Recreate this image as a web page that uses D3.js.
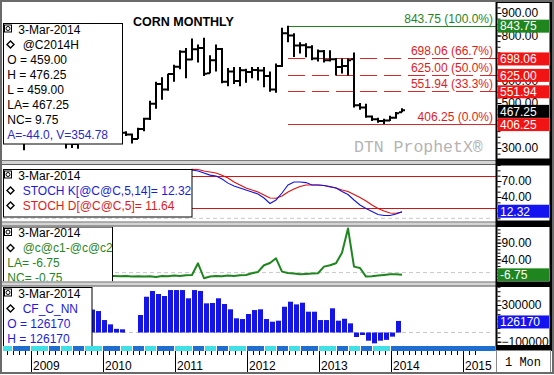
<!DOCTYPE html>
<html>
<head>
<meta charset="utf-8">
<script src="https://cdn.jsdelivr.net/npm/d3@7"></script>
<style>
  body { margin: 0; background: #fff; }
  svg { display: block; }
  text { font-family: Arial, "Liberation Sans", sans-serif; }
</style>
</head>
<body>
<svg id="chart" width="554" height="375"></svg>
<script>
// monthly bars, Sep 2008 .. Mar 2014
const firstMonth = new Date(2008, 8, 1);

const priceOpen = [555, 488, 400, 350, 407, 360, 357, 405, 393, 438, 343, 320, 318, 340, 390, 410,
  414, 362, 378, 346, 368, 360, 340, 384, 430, 497, 585, 560, 629, 661, 728, 693, 739, 745, 632, 690,
  740, 594, 640, 598, 646, 638, 647, 644, 620, 560, 665, 810, 800, 756, 757, 748, 698, 730, 690, 695,
  660, 665, 695, 490, 480, 440, 428, 420, 422, 434, 459];
const priceHigh = [600, 500, 430, 415, 424, 384, 412, 418, 445, 450, 355, 340, 345, 400, 420, 420,
  430, 385, 383, 375, 375, 364, 390, 435, 510, 595, 615, 630, 670, 735, 745, 787, 760, 790, 712, 760,
  745, 656, 660, 660, 652, 660, 660, 660, 640, 676, 835, 843.75, 810, 770, 766, 757, 738, 736, 735, 700,
  698, 698, 725, 500, 497, 445, 434, 430, 443, 460, 476.25];
const priceLow = [480, 365, 340, 290, 358, 346, 345, 370, 390, 340, 298, 300, 297, 330, 370, 380,
  353, 355, 340, 343, 353, 320, 340, 375, 425, 475, 515, 555, 595, 650, 610, 690, 680, 620, 632, 640,
  588, 575, 585, 575, 590, 610, 600, 570, 550, 546, 660, 770, 705, 720, 703, 690, 685, 680, 685, 622,
  631, 622, 480, 470, 435, 420, 412, 406.25, 420, 430, 459];
const priceClose = [488, 400, 350, 407, 360, 357, 405, 393, 438, 343, 320, 318, 340, 390, 410, 414,
  362, 378, 346, 368, 360, 340, 384, 430, 497, 585, 560, 629, 661, 728, 693, 739, 745, 630, 690, 740,
  594, 640, 598, 646, 638, 647, 644, 620, 560, 665, 810, 800, 756, 757, 748, 698, 730, 690, 695, 660,
  665, 690, 490, 480, 440, 428, 420, 422, 434, 455, 467.25];

const stochK = [30, 15, 8, 12, 20, 18, 25, 35, 55, 50, 30, 18, 15, 35, 55, 65, 50, 40, 30, 28, 30, 25,
  45, 65, 82, 88, 86, 89, 90, 91, 89, 90.6, 88.8, 85, 81, 79.4, 73.8, 66, 60.6, 57, 53, 49.4, 45.6, 38,
  27.8, 34.4, 47.5, 62.5, 68, 68, 67, 62.5, 62.5, 61.6, 59.7, 57, 50.3, 44.7, 34.4, 25, 18.4, 12.8,
  7.2, 5.3, 5.3, 8.1, 12.32];
const stochD = [45, 30, 18, 12, 14, 17, 20, 26, 35, 43, 42, 36, 30, 29, 35, 45, 50, 50, 45, 38, 33, 29,
  32, 42, 55, 70, 80, 86, 88, 90, 90, 92, 91.5, 88.8, 87, 85, 81, 75.6, 68, 62.5, 57, 53, 49.4, 43.8,
  38, 37.5, 42, 49.4, 55, 59.7, 62.5, 62.5, 62.5, 61.6, 58.8, 57, 53, 50.3, 44.7, 39, 32.5, 25, 18.4,
  13.8, 10, 9.4, 11.64];

const spread = [-8, -10, -12, -9, -11, -10, -12, -11, -9, -13, -10, -12, -11, -10, -9, -11, -12, -10,
  -10, -11, -10, -12, -11, -12, -11, -13, -10, -11, -9, -10, -8, -7, 28, -17, -12, -10, -11, -9, -10,
  -8, -7, -2, 2, 22, 29, 43, 3, -1, -3, -5, -4, -3, -2, 18, 22, 28, 60, 133, 18, 14, -12, -11, -9, -7,
  -5, -5, -6.75];

const cotNet = [210000, 150000, 120000, 110000, 140000, 160000, 180000, 170000, 190000, 150000, 110000,
  90000, 130000, 180000, 220000, 250000, 234000, 136000, 89000, 40000, 35000, null, null, 191000,
  390000, 453000, 420000, 398000, 463000, 463000, 463000, 373000, 463000, 453000, 318000, 322000,
  373000, 311000, 253000, 155000, 147000, 202000, 245000, 253000, 147000, 118000, 129000, 281000,
  336000, 307000, 325000, 227000, 227000, 136000, 136000, 264000, 129000, 150000, 100000, -49000,
  -27000, -89000, -118000, -89000, -80000, -45000, 126170];

const fibLevels = [843.75, 698.06, 625.00, 551.94, 406.25];
const fibLabels = ["100.0%", "66.7%", "50.0%", "33.3%", "0.0%"];
const fibStartMonth = new Date(2012, 7, 1);

const years = [2009, 2010, 2011, 2012, 2013, 2014, 2015];
// months where the nearby-contract strip changes colour
const rollMonths = [0, 3, 5, 7, 9];

// labels the value boxes do not fully cover
const priceTicks = [300, 500, 600, 800, 900];
const stochTicks = [40, 70];
const spreadTicks = [40, 90];
const cotTicks = [-100000, 300000];

const svg = d3.select('#chart');
const plotL = 3, plotR = 496, axL = 496, axR = 551;
const pPrice = [3, 160], pStoch = [165, 221.5], pSpread = [226.5, 281.5], pCot = [286.5, 346];

const dates = priceClose.map((_, i) => d3.timeMonth.offset(firstMonth, i));
const mi = d => (d.getFullYear() - 2009) * 12 + d.getMonth();
const x = d3.scaleLinear().domain([0, 72]).range([30, 462]);
const xd = d => x(mi(d));

const yP = d3.scaleLinear().domain([300, 900]).range([148, 13]);
const yS = d3.scaleLinear().domain([0, 70]).range([218.3, 181]);
const ySp = d3.scaleLinear().domain([0, 90]).range([272.6, 242.7]);
const yC = d3.scaleLinear().domain([-100000, 300000]).range([341.7, 305]);

const blue = '#1c1cd8', red = '#e01b1b', green = '#1f861f', cyan = '#3fe0e6', stripBlue = '#1e6ed2';

svg.append('rect').attr('width', 554).attr('height', 375).attr('fill', '#fff');

const defs = svg.append('defs');
function clip(id, x0, y0, x1, y1) {
  defs.append('clipPath').attr('id', id).append('rect')
    .attr('x', x0).attr('y', y0).attr('width', x1 - x0).attr('height', y1 - y0);
  return `url(#${id})`;
}

// ---------- price panel ----------
const g1 = svg.append('g').attr('clip-path', clip('c1', plotL, pPrice[0], plotR, pPrice[1]));

g1.append('text').attr('x', 354).attr('y', 152).attr('fill', '#b4b4b4')
  .style('font-family', '"Liberation Mono", "Courier New", monospace').style('font-size', '16.5px')
  .text('DTN ProphetX\u00ae');

g1.append('text').attr('x', 133).attr('y', 26).style('font-weight', 'bold').style('font-size', '12.5px')
  .text('CORN MONTHLY');

const fx0 = xd(fibStartMonth);
g1.selectAll('line.fib').data(fibLevels).join('line')
  .attr('x1', fx0).attr('x2', plotR)
  .attr('y1', d => Math.round(yP(d)) + 0.5).attr('y2', d => Math.round(yP(d)) + 0.5)
  .attr('stroke', (d, i) => i === 0 ? green : '#d42a2a')
  .attr('stroke-width', 1)
  .attr('stroke-dasharray', (d, i) => (i === 0 || i === fibLevels.length - 1) ? null : '17,7');

g1.selectAll('path.bar').data(d3.range(priceClose.length)).join('path')
  .attr('d', i => {
    const cx = xd(dates[i]);
    return `M${cx},${yP(priceHigh[i])}V${yP(priceLow[i])}` +
      `M${cx - 3},${yP(priceOpen[i])}H${cx}M${cx},${yP(priceClose[i])}H${cx + 3}`;
  })
  .attr('fill', 'none').attr('stroke', '#000').attr('stroke-width', 2);

g1.selectAll('text.fib').data(fibLevels).join('text')
  .attr('x', 493).attr('y', d => yP(d) - 3).attr('text-anchor', 'end')
  .attr('fill', (d, i) => i === 0 ? green : red).style('font-size', '12px')
  .text((d, i) => `${d.toFixed(2)} (${fibLabels[i]})`);

// ---------- legends ----------
function icon(g, x0, y0) {
  g.append('rect').attr('x', x0 + 0.5).attr('y', y0 + 0.5).attr('width', 7).attr('height', 7)
    .attr('fill', '#fff').attr('stroke', '#000');
  g.append('circle').attr('cx', x0 + 4).attr('cy', y0 + 4).attr('r', 2).attr('fill', 'none')
    .attr('stroke', '#000').attr('stroke-width', 1);
}
function diamond(g, cx, cy) {
  g.append('path').attr('d', `M${cx},${cy - 3.5}L${cx + 3.5},${cy}L${cx},${cy + 3.5}L${cx - 3.5},${cy}Z`)
    .attr('fill', '#fff').attr('stroke', '#000').attr('stroke-width', 1.4);
}
function legend(parent, x0, y0, w, h, rows) {
  const g = parent.append('g');
  g.append('rect').attr('x', x0 + 0.5).attr('y', y0 + 0.5).attr('width', w).attr('height', h)
    .attr('fill', '#fff').attr('stroke', '#000');
  rows.forEach((r, i) => {
    const by = y0 + 10.5 + 15 * i;
    let tx = 7.3;
    if (r.kind === 'date') { icon(g, 4, by - 9); tx = 18.3; }
    if (r.kind === 'series') { diamond(g, 10.5, by - 4); tx = 22.7; }
    g.append('text').attr('x', tx).attr('y', by).attr('fill', r.color || '#000')
      .style('font-size', '12px').text(r.text);
  });
}

legend(g1, 3, 23, 119, 120.5, [
  { kind: 'date', text: '3-Mar-2014' },
  { kind: 'series', text: '@C2014H' },
  { text: 'O = 459.00' }, { text: 'H = 476.25' }, { text: 'L = 459.00' },
  { text: 'LA= 467.25' }, { text: 'NC= 9.75' },
  { text: 'A=-44.0, V=354.78', color: '#2a2ac4' }
]);

// ---------- stochastics ----------
const g2 = svg.append('g').attr('clip-path', clip('c2', plotL, pStoch[0], plotR, pStoch[1]));
g2.append('line').attr('x1', plotL).attr('x2', 493).attr('y1', yS(0)).attr('y2', yS(0))
  .attr('stroke', '#c8c8c8').attr('stroke-dasharray', '4,3');
[80, 20].forEach(v => g2.append('line').attr('x1', plotL).attr('x2', plotR)
  .attr('y1', Math.round(yS(v)) + 0.5).attr('y2', Math.round(yS(v)) + 0.5)
  .attr('stroke', '#d01515'));
const lineOf = (arr, y) => d3.line().x((d, i) => xd(dates[i])).y(d => y(d))(arr);
g2.append('path').attr('d', lineOf(stochD, yS)).attr('fill', 'none').attr('stroke', '#e01010').attr('stroke-width', 1.1);
g2.append('path').attr('d', lineOf(stochK, yS)).attr('fill', 'none').attr('stroke', '#1414e0').attr('stroke-width', 1.1);
legend(g2, 3, 169, 188.5, 47.5, [
  { kind: 'date', text: '3-Mar-2014' },
  { kind: 'series', text: 'STOCH K[@C@C,5,14]= 12.32', color: blue },
  { kind: 'series', text: 'STOCH D[@C@C,5]= 11.64', color: red }
]);

// ---------- spread ----------
const g3 = svg.append('g').attr('clip-path', clip('c3', plotL, pSpread[0], plotR, pSpread[1]));
g3.append('line').attr('x1', plotL).attr('x2', 493).attr('y1', ySp(0)).attr('y2', ySp(0))
  .attr('stroke', '#c8c8c8').attr('stroke-dasharray', '4,3');
g3.append('path').attr('d', lineOf(spread, ySp)).attr('fill', 'none').attr('stroke', green)
  .attr('stroke-width', 2).attr('stroke-linejoin', 'round');
legend(g3, 3, 226.5, 109, 70, [
  { kind: 'date', text: '3-Mar-2014' },
  { kind: 'series', text: '@c@c1-@c@c2', color: green },
  { text: 'LA= -6.75', color: green },
  { text: 'NC= -0.75', color: green }
]);

// ---------- COT net ----------
const g4 = svg.append('g').attr('clip-path', clip('c4', plotL, pCot[0], plotR, pCot[1]));
g4.append('line').attr('x1', plotL).attr('x2', 493).attr('y1', yC(0)).attr('y2', yC(0))
  .attr('stroke', '#c8c8c8').attr('stroke-dasharray', '4,3');
g4.selectAll('rect.cot').data(d3.range(cotNet.length).filter(i => cotNet[i] !== null)).join('rect')
  .attr('x', i => xd(dates[i]) - 6).attr('width', 5)
  .attr('y', i => Math.min(yC(cotNet[i]), yC(0)))
  .attr('height', i => Math.abs(yC(cotNet[i]) - yC(0)))
  .attr('fill', '#1414e6');
legend(g4, 3, 287, 88.5, 59, [
  { kind: 'date', text: '3-Mar-2014' },
  { kind: 'series', text: 'CF_C_NN', color: blue },
  { text: 'O = 126170', color: blue },
  { text: 'H = 126170', color: blue }
]);

// ---------- panel separators ----------
[[160, 165], [221.5, 226.5], [281.5, 286.5]].forEach(([a, b]) => {
  svg.append('rect').attr('x', 0).attr('y', a).attr('width', axL).attr('height', b - a).attr('fill', '#d4d4d4');
  svg.append('line').attr('x1', 0).attr('x2', axL).attr('y1', a + 0.5).attr('y2', a + 0.5).attr('stroke', '#7c7c7c');
  svg.append('line').attr('x1', 0).attr('x2', axL).attr('y1', b - 0.5).attr('y2', b - 0.5).attr('stroke', '#5c5c5c');
});

// ---------- contract strip + time axis ----------
const gT = svg.append('g').attr('clip-path', clip('cT', plotL, 340, plotR, 373));
const lastM = mi(dates[dates.length - 1]);
const bounds = [];
for (let m = mi(firstMonth) - 1; m <= lastM; m++) {
  if (rollMonths.includes(((m % 12) + 12) % 12)) bounds.push(m);
}
const k0 = bounds.indexOf(0);
bounds.forEach((m, k) => {
  const isLast = k === bounds.length - 1;
  const x0 = x(m) + 1, x1 = isLast ? plotR : x(bounds[k + 1]) + 1;
  gT.append('rect').attr('x', x0).attr('y', 346).attr('width', x1 - x0 - 1).attr('height', 5)
    .attr('fill', isLast ? stripBlue : ((k - k0) % 2 === 0 ? cyan : stripBlue));
});
gT.append('g').attr('transform', 'translate(1,351)')
  .call(d3.axisBottom(x).tickValues(d3.range(-6, 75)).tickSize(4).tickFormat(''))
  .call(g => g.select('.domain').remove());
gT.selectAll('line.year').data(years).join('line')
  .attr('x1', d => x((d - 2009) * 12) + 1.5).attr('x2', d => x((d - 2009) * 12) + 1.5)
  .attr('y1', 351).attr('y2', 373).attr('stroke', '#000');
gT.selectAll('text.year').data(years).join('text')
  .attr('x', d => x((d - 2009) * 12) + 3).attr('y', 370).style('font-size', '12px').text(d => d);

// ---------- right axis column ----------
svg.append('rect').attr('x', axL).attr('y', 0).attr('width', 558 - axL).attr('height', 373).attr('fill', '#fff');

function rightAxis(y, major, minorStep, fmt, span, id) {
  const g = svg.append('g').attr('clip-path', clip(id, axL, span[0], axR, span[1]));
  const lo = y.invert(span[1]), hi = y.invert(span[0]);
  const minor = d3.range(Math.ceil(lo / minorStep) * minorStep, hi, minorStep);
  g.append('g').attr('transform', `translate(${axL + 1.5},0)`)
    .call(d3.axisRight(y).tickValues(minor).tickSize(3).tickFormat(''))
    .call(a => a.select('.domain').remove());
  g.append('g').attr('transform', `translate(${axL + 1.5},0)`)
    .call(d3.axisRight(y).tickValues(major).tickSize(4).tickPadding(0).tickFormat(fmt))
    .call(a => a.select('.domain').remove())
    .call(a => a.selectAll('text').style('font-size', '12px').style('font-family', 'Arial, "Liberation Sans", sans-serif').attr('fill', '#000'));
  return g;
}
rightAxis(yP, priceTicks, 25, d3.format('.2f'), pPrice, 'a1');
rightAxis(yS, stochTicks, 10, d3.format('.2f'), pStoch, 'a2');
rightAxis(ySp, spreadTicks, 10, d3.format('.2f'), pSpread, 'a3');
rightAxis(yC, cotTicks, 50000, d3.format('d'), pCot, 'a4');

function valueBox(yv, label, fill) {
  svg.append('rect').attr('x', axL + 2).attr('y', yv - 6.5).attr('width', 51).attr('height', 13).attr('fill', fill);
  svg.append('text').attr('x', axL + 4).attr('y', yv).attr('dy', '0.36em').attr('fill', '#fff')
    .style('font-size', '12px').text(label);
}
fibLevels.forEach((v, i) => valueBox(yP(v) + 0.5, v.toFixed(2), i === 0 ? green : '#f01414'));
valueBox(yP(467.25) + 1, '467.25', '#000');
valueBox(yS(12.32) - 0.5, '12.32', '#1414f0');
valueBox(ySp(-6.75), '-6.75', green);
valueBox(yC(126170) + 1, '126170', '#1414f0');

// black frame around axis column
svg.append('rect').attr('x', axL - 0.5).attr('y', 0).attr('width', 2).attr('height', 351).attr('fill', '#000');
svg.append('rect').attr('x', 549.5).attr('y', 0).attr('width', 3).attr('height', 351).attr('fill', '#000');
[[0, 3], [158.5, 165.5], [220.5, 227], [281.5, 287], [345, 350.5]].forEach(([a, b]) =>
  svg.append('rect').attr('x', axL).attr('y', a).attr('width', 56).attr('height', b - a).attr('fill', '#000'));

svg.append('rect').attr('x', axL + 0.5).attr('y', 350.5).attr('width', 54).attr('height', 22)
  .attr('fill', '#fff').attr('stroke', '#8a8a8a');
svg.append('text').attr('x', 505).attr('y', 366)
  .style('font-family', '"Liberation Mono", "Courier New", monospace').style('font-size', '12px')
  .text('1 Mon');

// outer frame
svg.append('rect').attr('x', 1).attr('y', 1).attr('width', 552).attr('height', 372)
  .attr('fill', 'none').attr('stroke', '#6a6a6a').attr('stroke-width', 2);
</script>
</body>
</html>
